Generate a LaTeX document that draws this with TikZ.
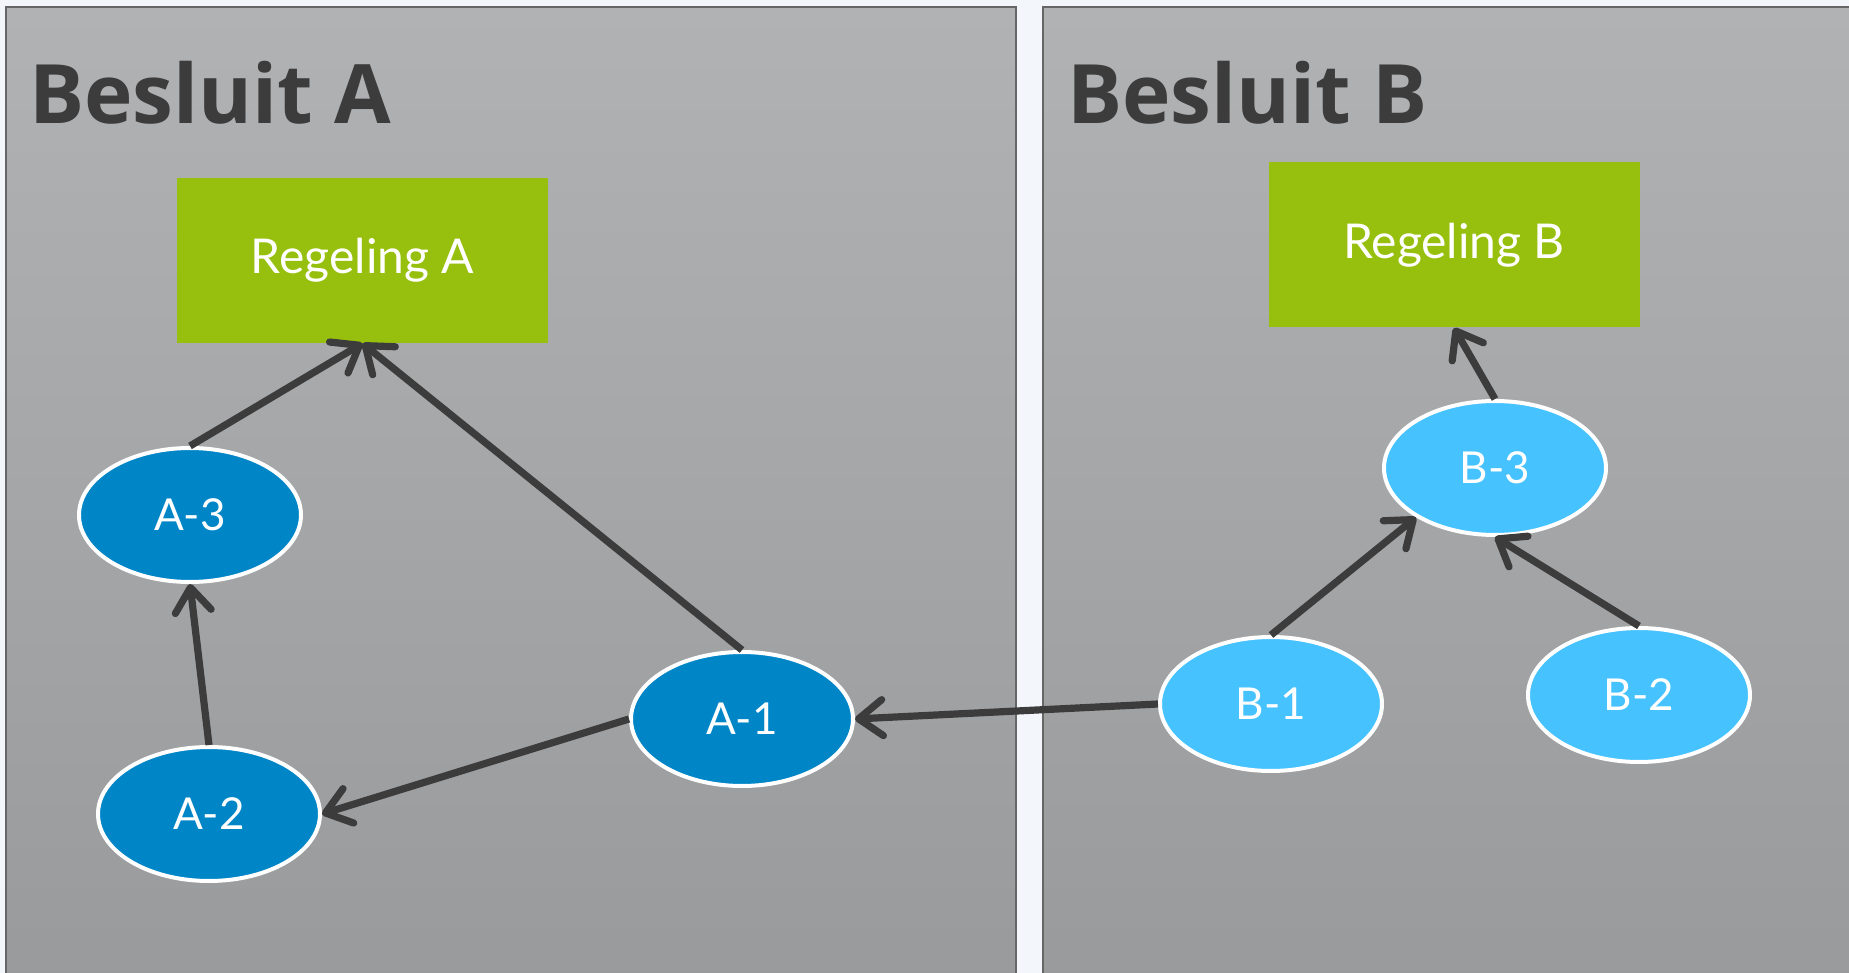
\documentclass[tikz,border=0pt]{standalone}
\usepackage{fontspec}
\setmainfont{Lato}
\newfontfamily\kopfont{Open Sans}
\usetikzlibrary{arrows.meta, positioning, shapes.geometric}

\definecolor{regelgroen}{HTML}{97C00E}
\definecolor{besluitblauw}{HTML}{0085C7}
\definecolor{lichtblauw}{HTML}{46C2FF}
\definecolor{donker}{HTML}{3C3C3C}
\definecolor{paneelboven}{HTML}{B1B2B4}
\definecolor{paneelonder}{HTML}{999A9C}
\definecolor{achtergrond}{HTML}{F3F7FB}

\begin{document}
\begin{tikzpicture}[>={Straight Barb[length=12pt,width=18pt,round]}, on grid, auto]

        \tikzstyle{versie}=[ellipse, draw=white, line width=2pt, minimum width=111pt, minimum height=67pt, inner sep=0pt, text=white, font=\fontsize{22}{26}\selectfont]
        \tikzstyle{versieA}=[versie, fill=besluitblauw]
        \tikzstyle{versieB}=[versie, fill=lichtblauw]
        \tikzstyle{regeling}=[rectangle, fill=regelgroen, minimum width=185.5pt, minimum height=82.5pt, text=white, font=\fontsize{24}{28}\selectfont]
        \tikzstyle{kop}=[anchor=base west, inner sep=0pt, text=donker, font=\kopfont\bfseries\fontsize{41}{48}\selectfont]
        \tikzstyle{pijl}=[->, draw=donker, line width=3.6pt]

        % achtergrond en panelen
        \fill[achtergrond] (0,0) rectangle (924.5pt,-486.5pt);
        \useasboundingbox (0,0) rectangle (924.5pt,-486.5pt);
        \shadedraw[top color=paneelboven, bottom color=paneelonder, draw=gray!80!black, line width=0.6pt] (3pt,-3.5pt) rectangle (508pt,-495pt);
        \shadedraw[top color=paneelboven, bottom color=paneelonder, draw=gray!80!black, line width=0.6pt] (521.5pt,-3.5pt) rectangle (935pt,-495pt);

        \node[kop] (kop_A) at (14.5pt,-62pt) {Besluit A};
        \node[kop] (kop_B) at (533.5pt,-62pt) {Besluit B};

        \node[versieA] (a_1) at (371pt,-359.5pt) {A-1};
        \node[versieA] (a_2) [below left=47.5pt and 266.5pt of a_1] {A-2};
        \node[versieA] (a_3) [above left=149.5pt and 9.5pt of a_2] {A-3};
        \node[regeling] (reg_A) [above right=127.25pt and 86.25pt of a_3] {Regeling A};

        \node[versieB] (b_1) [above right=7.5pt and 264.5pt of a_1] {B-1};
        \node[versieB] (b_2) [above right=4.5pt and 184pt of b_1] {B-2};
        \node[versieB] (b_3) [above right=118pt and 112pt of b_1] {B-3};
        \node[regeling] (reg_B) [above left=111.5pt and 20.5pt of b_3] {Regeling B};

        \path
        (a_3.north) edge [pijl] (reg_A.south)
        (a_1.north) edge [pijl] (reg_A.south)
        (a_2.north) edge [pijl] (a_3.south)
        (a_1.west) edge [pijl] (a_2.east)
        (b_1.west) edge [pijl] (a_1.east)
        (b_1.north) edge [pijl] (b_3.212)
        (b_2.north) edge [pijl] (b_3.south)
        (b_3.north) edge [pijl] (reg_B.south);

\end{tikzpicture}
\end{document}
